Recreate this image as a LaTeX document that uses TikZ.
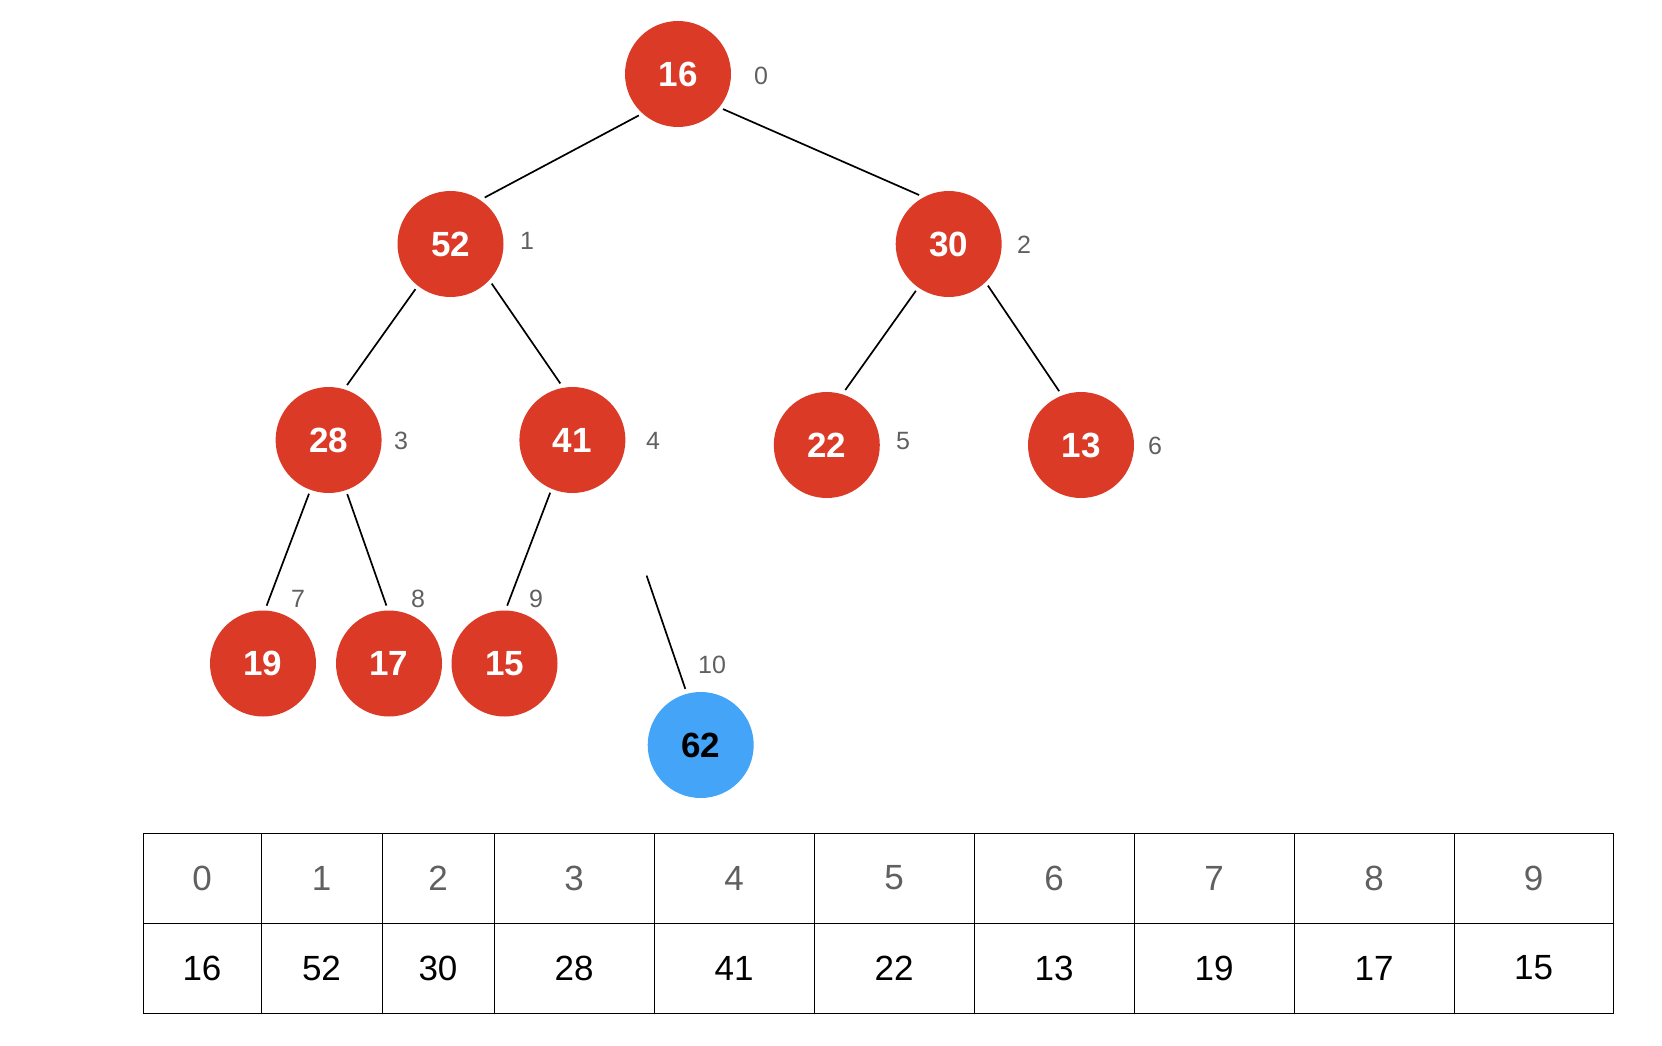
\documentclass[tikz,border=0pt]{standalone}
\usepackage{fontspec}
\setmainfont{Liberation Sans}
\usetikzlibrary{positioning}
\definecolor{heapred}{RGB}{219,58,39}
\definecolor{newblue}{RGB}{68,164,248}
\definecolor{idxgray}{RGB}{96,96,96}

\begin{document}
\begin{tikzpicture}[x=1pt, y=-1pt,
  hnode/.style={circle, fill=heapred, text=white, minimum size=106pt, inner sep=0pt,
                font=\fontsize{35}{40}\selectfont\bfseries},
  hnew/.style={hnode, fill=newblue, text=black},
  idx/.style={text=idxgray, inner sep=0pt, font=\fontsize{25}{30}\selectfont},
  link/.style={line width=1.7pt, black, shorten <=4pt, shorten >=5pt},
  cell/.style={draw, line width=1pt, minimum height=90pt, inner sep=0pt,
               font=\fontsize{35}{40}\selectfont},
]
  \useasboundingbox (0,0) rectangle (1662,1046);

  % heap nodes
  \node[hnode] (n16) at (678,74)    {16};
  \node[hnode] (n52) at (450.5,244) {52};
  \node[hnode] (n30) at (948.7,244) {30};
  \node[hnode] (n28) at (328.6,440) {28};
  \node[hnode] (n41) at (572.4,440) {41};
  \node[hnode] (n22) at (826.8,445) {22};
  \node[hnode] (n13) at (1081,445)  {13};
  \node[hnode] (n19) at (263,663.5) {19};
  \node[hnode] (n17) at (389,663.5) {17};
  \node[hnode] (n15) at (504.5,663.5) {15};
  \node[hnew]  (n62) at (700.7,745) {62};

  % array positions
  \node[idx] (i0)  at (761,76)  {0};
  \node[idx] (i1)  at (527,241) {1};
  \node[idx] (i2)  at (1024,245) {2};
  \node[idx] (i3)  at (401,441) {3};
  \node[idx] (i4)  at (653,441) {4};
  \node[idx] (i5)  at (903,441) {5};
  \node[idx] (i6)  at (1155,446) {6};
  \node[idx] (i7)  at (298,599) {7};
  \node[idx] (i8)  at (418,599) {8};
  \node[idx] (i9)  at (536,599) {9};
  \node[idx] (i10) at (712,665) {10};

  \draw[link] (n16.228) -- (n52.56);
  \draw[link] (n16.321) -- (n30.118);
  \draw[link] (n52.232) -- (n28.73);
  \draw[link] (n52.317) -- (n41.100);
  \draw[link] (n30.235) -- (n22.73);
  \draw[link] (n30.314) -- (n13.111);
  \draw[link] (n28.250) -- (n19.88);
  \draw[link] (n28.289) -- (n17.91);
  \draw[link] (n41.247) -- (n15.89);
  \coordinate (gap) at (646.6,575.6);
  \draw[link, shorten <=0pt] (gap) -- (n62.105);

  % array
  \foreach \i/\xl/\xr/\v in {0/143/261/16, 1/261/382/52, 2/382/494/30, 3/494/654/28,
      4/654/814/41, 5/814/974/22, 6/974/1134/13, 7/1134/1294/19, 8/1294/1454/17, 9/1454/1613/15}{
    \node[cell, text=idxgray, minimum width={(\xr-\xl)*1pt}] (t\i) at ({(\xl+\xr)/2},878) {\i};
    \node[cell, minimum width={(\xr-\xl)*1pt}] (v\i) at ({(\xl+\xr)/2},968) {\v};
  }
\end{tikzpicture}
\end{document}
